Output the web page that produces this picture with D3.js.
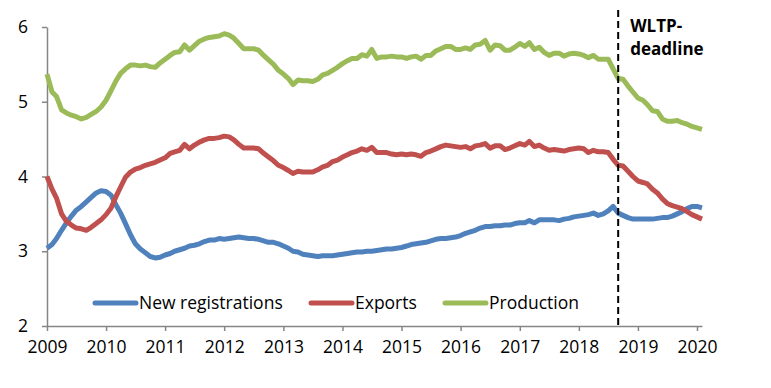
<!DOCTYPE html>
<html>
<head>
<meta charset="utf-8">
<script src="https://cdn.jsdelivr.net/npm/d3@7"></script>
<style>
  body { margin: 0; background: #fff; }
  svg text { font-family: "Open Sans", sans-serif; }
</style>
</head>
<body>
<div id="vis"></div>
<script>
// chart data, monthly from Jan 2009 to Feb 2020
const START_YEAR = 2009;
const YEAR_TICKS = [2009, 2010, 2011, 2012, 2013, 2014, 2015, 2016, 2017, 2018, 2019, 2020];
const Y_TICKS = [2, 3, 4, 5, 6];
const SERIES_NAMES = ["New registrations", "Exports", "Production"];
const WLTP_DATE = [2018, 8]; // year, month index (September)
const WLTP_LABEL = ["WLTP-", "deadline"];

const newRegistrations = [
  3.04, 3.09, 3.17, 3.28, 3.38, 3.47, 3.55, 3.60, 3.66, 3.72, 3.78, 3.81,
  3.80, 3.75, 3.63, 3.51, 3.37, 3.22, 3.10, 3.03, 2.98, 2.93, 2.91, 2.92,
  2.95, 2.97, 3.00, 3.02, 3.04, 3.07, 3.08, 3.10, 3.13, 3.15, 3.15, 3.17,
  3.16, 3.17, 3.18, 3.19, 3.18, 3.17, 3.17, 3.16, 3.14, 3.12, 3.12, 3.10,
  3.07, 3.04, 3.00, 2.99, 2.96, 2.95, 2.94, 2.93, 2.94, 2.94, 2.94, 2.95,
  2.96, 2.97, 2.98, 2.99, 2.99, 3.00, 3.00, 3.01, 3.02, 3.03, 3.03, 3.04,
  3.05, 3.07, 3.09, 3.10, 3.11, 3.12, 3.14, 3.16, 3.17, 3.17, 3.18, 3.19,
  3.21, 3.24, 3.26, 3.28, 3.31, 3.33, 3.33, 3.34, 3.34, 3.35, 3.35, 3.37,
  3.38, 3.38, 3.41, 3.38, 3.42, 3.42, 3.42, 3.42, 3.41, 3.43, 3.44, 3.46,
  3.47, 3.48, 3.49, 3.51, 3.48, 3.50, 3.54, 3.60, 3.51, 3.48, 3.45, 3.43,
  3.43, 3.43, 3.43, 3.43, 3.44, 3.45, 3.45, 3.47, 3.50, 3.53, 3.57, 3.60,
  3.60, 3.58
];

const exportsData = [
  4.00, 3.83, 3.71, 3.50, 3.40, 3.35, 3.31, 3.30, 3.28, 3.32, 3.37, 3.42,
  3.49, 3.58, 3.72, 3.86, 3.99, 4.06, 4.10, 4.12, 4.15, 4.17, 4.19, 4.22,
  4.25, 4.31, 4.33, 4.35, 4.43, 4.37, 4.42, 4.46, 4.49, 4.51, 4.51, 4.52,
  4.54, 4.53, 4.49, 4.43, 4.38, 4.38, 4.38, 4.37, 4.31, 4.26, 4.21, 4.15,
  4.12, 4.08, 4.04, 4.07, 4.06, 4.06, 4.06, 4.09, 4.13, 4.15, 4.20, 4.22,
  4.26, 4.29, 4.32, 4.34, 4.37, 4.35, 4.39, 4.32, 4.32, 4.32, 4.30, 4.29,
  4.30, 4.29, 4.30, 4.29, 4.27, 4.32, 4.34, 4.37, 4.40, 4.42, 4.41, 4.40,
  4.39, 4.40, 4.37, 4.41, 4.42, 4.44, 4.38, 4.41, 4.41, 4.36, 4.38, 4.41,
  4.44, 4.42, 4.47, 4.40, 4.42, 4.38, 4.35, 4.36, 4.35, 4.34, 4.36, 4.37,
  4.38, 4.37, 4.32, 4.35, 4.33, 4.33, 4.32, 4.23, 4.15, 4.14, 4.07, 4.00,
  3.94, 3.92, 3.90, 3.83, 3.78, 3.70, 3.64, 3.61, 3.59, 3.57, 3.53, 3.49,
  3.46, 3.43
];

const production = [
  5.37, 5.13, 5.07, 4.89, 4.85, 4.82, 4.80, 4.77, 4.79, 4.83, 4.87, 4.93,
  5.02, 5.15, 5.27, 5.38, 5.44, 5.49, 5.49, 5.48, 5.49, 5.47, 5.46, 5.52,
  5.57, 5.62, 5.66, 5.67, 5.76, 5.69, 5.75, 5.81, 5.84, 5.86, 5.87, 5.88,
  5.91, 5.89, 5.85, 5.78, 5.71, 5.71, 5.71, 5.69, 5.62, 5.56, 5.50, 5.42,
  5.37, 5.31, 5.23, 5.29, 5.28, 5.28, 5.27, 5.30, 5.36, 5.38, 5.42, 5.46,
  5.51, 5.55, 5.58, 5.58, 5.63, 5.61, 5.70, 5.58, 5.60, 5.60, 5.61, 5.60,
  5.60, 5.58, 5.60, 5.61, 5.57, 5.62, 5.62, 5.68, 5.71, 5.74, 5.74, 5.70,
  5.70, 5.72, 5.70, 5.76, 5.77, 5.82, 5.69, 5.76, 5.75, 5.69, 5.69, 5.73,
  5.78, 5.74, 5.79, 5.70, 5.73, 5.66, 5.62, 5.65, 5.65, 5.61, 5.64, 5.65,
  5.64, 5.62, 5.59, 5.62, 5.57, 5.57, 5.57, 5.44, 5.31, 5.30, 5.21, 5.13,
  5.05, 5.02, 4.96, 4.88, 4.87, 4.77, 4.74, 4.74, 4.75, 4.72, 4.70, 4.67,
  4.65, 4.63
];

const COLORS = ["#4F81BD", "#C0504D", "#9BBB59"];

// frame
const FRAME_WIDTH = 771;
const FRAME_HEIGHT = 388;
const MARGINS = {left: 47, right: 69, top: 27, bottom: 62};

const FRAME = d3.select("#vis")
  .append("svg")
    .attr("width", FRAME_WIDTH)
    .attr("height", FRAME_HEIGHT);

const monthDate = (i) => new Date(START_YEAR, i, 1);
const allSeries = [newRegistrations, exportsData, production];

const X_SCALE = d3.scaleTime()
  .domain([monthDate(0), monthDate(newRegistrations.length - 1)])
  .range([MARGINS.left, FRAME_WIDTH - MARGINS.right]);

const Y_SCALE = d3.scaleLinear()
  .domain([2, 6])
  .range([FRAME_HEIGHT - MARGINS.bottom, MARGINS.top]);

// y axis
const yAxis = FRAME.append("g")
  .attr("transform", "translate(" + MARGINS.left + ",0)")
  .call(d3.axisLeft(Y_SCALE).tickValues(Y_TICKS).tickFormat(d3.format("d"))
          .tickSize(5).tickSizeOuter(0).tickPadding(14));
yAxis.selectAll("text").attr("font-size", "17.5px").attr("fill", "#000");

// x axis
const xAxis = FRAME.append("g")
  .attr("transform", "translate(0," + Y_SCALE(2) + ")")
  .call(d3.axisBottom(X_SCALE)
          .tickValues(YEAR_TICKS.map(y => new Date(y, 0, 1)))
          .tickFormat(d3.timeFormat("%Y"))
          .tickSize(5).tickSizeOuter(0).tickPadding(10));
xAxis.selectAll("text").attr("font-size", "17.5px").attr("fill", "#000");

FRAME.selectAll(".domain, .tick line")
  .attr("stroke", "#868686")
  .attr("stroke-width", 1.5);

// lines
const line = d3.line()
  .x((d, i) => X_SCALE(monthDate(i)))
  .y(d => Y_SCALE(d));

FRAME.append("g")
  .selectAll("path")
  .data(allSeries)
  .enter()
  .append("path")
    .attr("d", d => line(d))
    .attr("fill", "none")
    .attr("stroke", (d, i) => COLORS[i])
    .attr("stroke-width", 5)
    .attr("stroke-linejoin", "round");

// WLTP deadline
const wx = X_SCALE(new Date(WLTP_DATE[0], WLTP_DATE[1], 1));
FRAME.append("line")
  .attr("x1", wx).attr("x2", wx)
  .attr("y1", 10).attr("y2", Y_SCALE(2))
  .attr("stroke", "#000")
  .attr("stroke-width", 2)
  .attr("stroke-dasharray", "7,4");

FRAME.append("text")
  .attr("x", wx + 12)
  .attr("y", 32)
  .attr("font-size", "17px")
  .attr("font-weight", "bold")
  .selectAll("tspan")
  .data(WLTP_LABEL)
  .enter()
  .append("tspan")
    .attr("x", wx + 12)
    .attr("dy", (d, i) => i === 0 ? 0 : 23)
    .text(d => d);

// legend
const LEGEND_X = [95, 311, 445];
const legend = FRAME.append("g")
  .selectAll("g")
  .data(SERIES_NAMES)
  .enter()
  .append("g")
    .attr("transform", (d, i) => "translate(" + LEGEND_X[i] + ",303)");

legend.append("line")
  .attr("x1", 0).attr("x2", 41)
  .attr("stroke", (d, i) => COLORS[i])
  .attr("stroke-width", 5)
  .attr("stroke-linecap", "round");

legend.append("text")
  .attr("x", 44)
  .attr("y", 6)
  .attr("font-size", "17.5px")
  .text(d => d);
</script>
</body>
</html>
